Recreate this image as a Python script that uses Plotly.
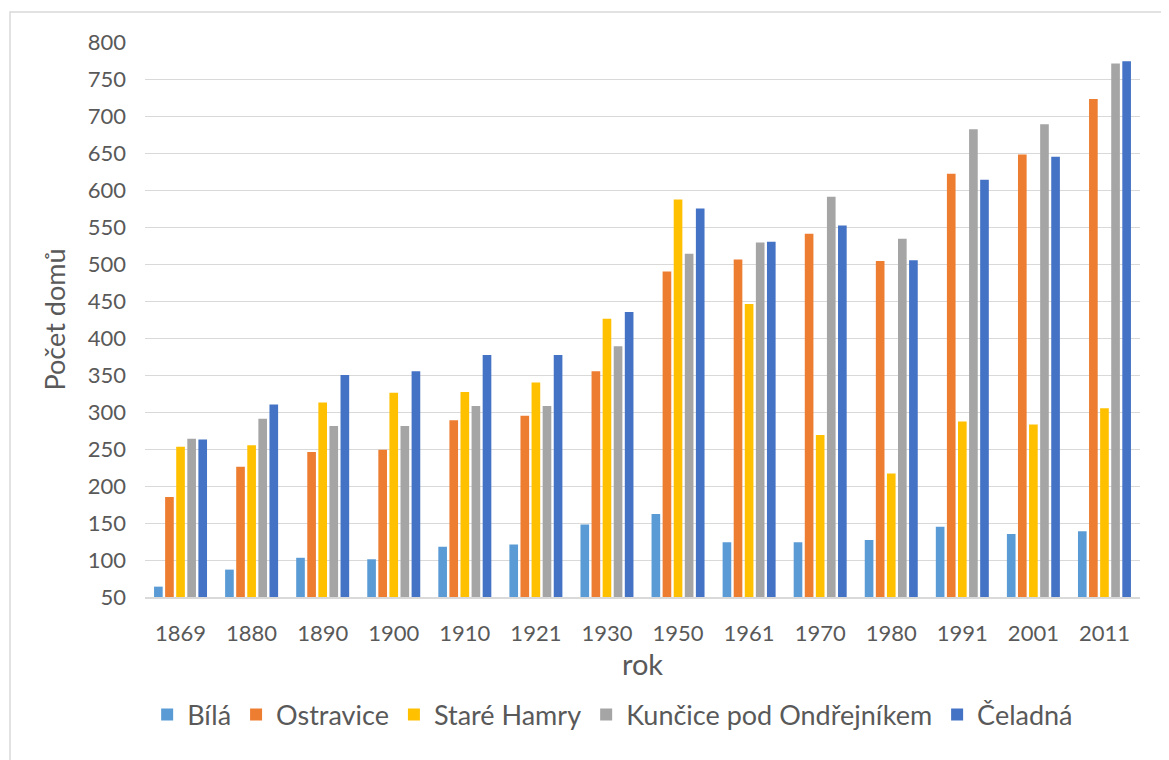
import plotly.graph_objects as go

roky = ["1869", "1880", "1890", "1900", "1910", "1921", "1930",
        "1950", "1961", "1970", "1980", "1991", "2001", "2011"]

bila = [64, 87, 103, 101, 118, 121, 148, 162, 124, 124, 127, 145, 135, 139]
ostravice = [185, 226, 246, 249, 289, 295, 355, 490, 506, 541, 504, 622, 648, 723]
stare_hamry = [253, 255, 313, 326, 327, 340, 426, 587, 446, 269, 217, 287, 283, 305]
kuncice = [264, 291, 281, 281, 308, 308, 389, 514, 529, 591, 534, 682, 689, 771]
celadna = [263, 310, 350, 355, 377, 377, 435, 575, 530, 552, 505, 614, 645, 774]

serie = [
    ("Bílá", bila, "#5b9bd5"),
    ("Ostravice", ostravice, "#ed7d31"),
    ("Staré Hamry", stare_hamry, "#ffc000"),
    ("Kunčice pod Ondřejníkem", kuncice, "#a5a5a5"),
    ("Čeladná", celadna, "#4472c4"),
]

font = "Lato, 'Open Sans', sans-serif"
gray = "#595959"

fig = go.Figure()
for name, vals, col in serie:
    fig.add_trace(go.Bar(x=roky, y=vals, name=name, marker_color=col,
                         marker_line_width=0))

# stranka ma okraj 8 px, proto posunute okraje
fig.update_layout(
    width=1169, height=760,
    margin=dict(l=137, r=37, t=34, b=171, autoexpand=False),
    plot_bgcolor="white", paper_bgcolor="white",
    barmode="group", bargap=0.22, bargroupgap=0.22,
    font=dict(family=font, color=gray, size=22),
    legend=dict(orientation="h", x=0.47, xanchor="center", y=-0.2126,
                yanchor="middle", font=dict(size=27), traceorder="normal",
                itemwidth=30),
    showlegend=True,
)
fig.update_yaxes(range=[50, 800], dtick=50, tick0=50, showgrid=True,
                 gridcolor="#d9d9d9", gridwidth=1.3, zeroline=False,
                 automargin=False, ticklabelstandoff=18, tickfont=dict(size=22),
                 title=dict(text="Počet domů", font=dict(size=27), standoff=14))
fig.update_xaxes(showline=True, linecolor="#d9d9d9", linewidth=2,
                 automargin=False, ticklabelstandoff=16, tickfont=dict(size=22),
                 title=dict(text="rok", font=dict(size=29), standoff=6))

# ramecek grafu
fig.add_shape(type="rect", xref="paper", yref="paper",
              x0=(10 - 145) / 995, x1=(1180 - 145) / 995,
              y0=(597 - 780) / 555, y1=1 + (42 - 12) / 555,
              line=dict(color="#d9d9d9", width=1.5), layer="below")

fig.write_html("out.html")
